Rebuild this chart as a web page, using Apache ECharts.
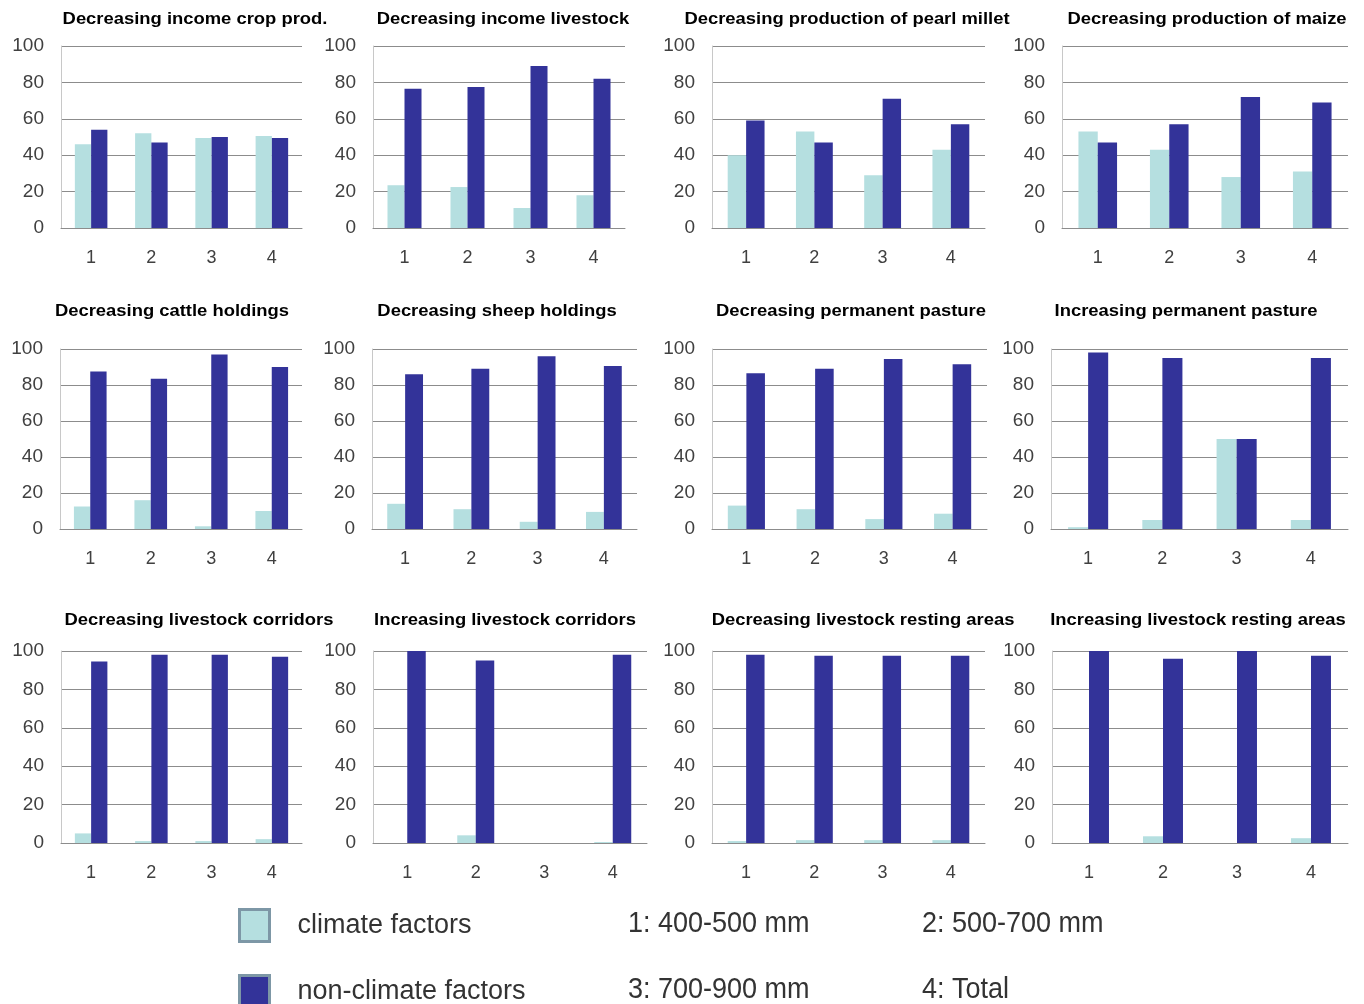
<!DOCTYPE html>
<html>
<head>
<meta charset="utf-8">
<script src="https://cdn.jsdelivr.net/npm/echarts@6/dist/echarts.min.js"></script>
<style>
html,body{margin:0;padding:0;background:#fff;}
#chart{width:1364px;height:1004px;}
</style>
</head>
<body>
<div id="chart"></div>
<script>
// ---- data ----
const categories = ['1', '2', '3', '4'];
const rainfallKey = ['1: 400-500 mm', '2: 500-700 mm', '3: 700-900 mm', '4: Total'];
const seriesNames = ['climate factors', 'non-climate factors'];
const panelTitles = [
  'Decreasing income crop prod.', 'Decreasing income livestock',
  'Decreasing production of pearl millet', 'Decreasing production of maize',
  'Decreasing cattle holdings', 'Decreasing sheep holdings',
  'Decreasing permanent pasture', 'Increasing permanent pasture',
  'Decreasing livestock corridors', 'Increasing livestock corridors',
  'Decreasing livestock resting areas', 'Increasing livestock resting areas'
];
const climateIncomeCrop = [46, 52, 49.5, 50.5];
const nonClimateIncomeCrop = [54, 47, 50, 49.5];
const climateIncomeLivestock = [23.5, 22.5, 11, 18];
const nonClimateIncomeLivestock = [76.5, 77.5, 89, 82];
const climatePearlMillet = [40, 53, 29, 43];
const nonClimatePearlMillet = [59, 47, 71, 57];
const climateMaize = [53, 43, 28, 31];
const nonClimateMaize = [47, 57, 72, 69];
const climateCattle = [12.5, 16, 1.5, 10];
const nonClimateCattle = [87.5, 83.5, 97, 90];
const climateSheep = [14, 11, 4, 9.5];
const nonClimateSheep = [86, 89, 96, 90.5];
const climateDecPasture = [13, 11, 5.5, 8.5];
const nonClimateDecPasture = [86.5, 89, 94.5, 91.5];
const climateIncPasture = [1, 5, 50, 5];
const nonClimateIncPasture = [98, 95, 50, 95];
const climateDecCorridors = [5, 1, 1, 2];
const nonClimateDecCorridors = [94.5, 98, 98, 97];
const climateIncCorridors = [0, 4, 0, 0.5];
const nonClimateIncCorridors = [100, 95, 0, 98];
const climateDecResting = [1, 1.5, 1.5, 1.5];
const nonClimateDecResting = [98, 97.5, 97.5, 97.5];
const climateIncResting = [0, 3.5, 0, 2.5];
const nonClimateIncResting = [100, 96, 100, 97.5];

const climateData = [climateIncomeCrop, climateIncomeLivestock, climatePearlMillet, climateMaize,
  climateCattle, climateSheep, climateDecPasture, climateIncPasture,
  climateDecCorridors, climateIncCorridors, climateDecResting, climateIncResting];
const nonClimateData = [nonClimateIncomeCrop, nonClimateIncomeLivestock, nonClimatePearlMillet, nonClimateMaize,
  nonClimateCattle, nonClimateSheep, nonClimateDecPasture, nonClimateIncPasture,
  nonClimateDecCorridors, nonClimateIncCorridors, nonClimateDecResting, nonClimateIncResting];

// ---- layout ----
const rowTop = [46, 349, 651];
const rowBottom = [228, 529, 843];
const colBounds = [
  [[61, 302], [373, 625], [712, 985], [1062, 1348]],
  [[60, 302], [372, 637], [712, 987], [1051, 1348]],
  [[61, 302], [373, 647], [712, 985], [1052, 1348]]
];
const titlePos = [
  [[195, 20], [503, 20], [847, 20], [1207, 20]],
  [[172, 312], [497, 312], [851, 312], [1186, 312]],
  [[199, 621], [505, 621], [863, 621], [1198, 621]]
];

const LIGHT = '#b5dfe0';
const DARK = '#333399';
const GRIDC = '#8c8c8c';
const FONT = '"Liberation Sans", Arial, sans-serif';

const grids = [], xAxes = [], yAxes = [], series = [], graphics = [];
for (let i = 0; i < 12; i++) {
  const r = Math.floor(i / 4), c = i % 4;
  const [l, rt] = colBounds[r][c];
  grids.push({ left: l, width: rt - l, top: rowTop[r], height: rowBottom[r] - rowTop[r] });
  xAxes.push({
    type: 'category', gridIndex: i, data: categories,
    axisTick: { show: false },
    axisLine: { lineStyle: { color: GRIDC, width: 1 } },
    axisLabel: { margin: 21, fontSize: 18, color: '#404040', fontFamily: FONT }
  });
  yAxes.push({
    type: 'value', gridIndex: i, min: 0, max: 100, interval: 20,
    axisLine: { show: true, lineStyle: { color: '#c8c8c8' } },
    axisTick: { show: false },
    splitLine: { lineStyle: { color: GRIDC, width: 1 } },
    axisLabel: { margin: 17, fontSize: 19, color: '#404040', fontFamily: FONT }
  });
  series.push({
    name: seriesNames[0], type: 'bar', xAxisIndex: i, yAxisIndex: i,
    data: climateData[i], itemStyle: { color: LIGHT },
    barGap: '0%', barCategoryGap: '46%'
  });
  series.push({
    name: seriesNames[1], type: 'bar', xAxisIndex: i, yAxisIndex: i,
    data: nonClimateData[i], itemStyle: { color: DARK },
    barGap: '0%', barCategoryGap: '46%'
  });
  const [tx, ty] = titlePos[r][c];
  graphics.push({
    type: 'text', x: tx, y: ty, scaleX: 1.15,
    style: { text: panelTitles[i], x: 0, y: 0, align: 'center', verticalAlign: 'middle',
      font: 'bold 16px ' + FONT, fill: '#000' }
  });
}

const keyPos = [[628, 924], [922, 924], [628, 990], [922, 990]];
rainfallKey.forEach((t, k) => {
  graphics.push({
    type: 'text', x: keyPos[k][0], y: keyPos[k][1], scaleX: 0.9,
    style: { text: t, x: 0, y: 0, align: 'left', verticalAlign: 'middle',
      font: '30px ' + FONT, fill: '#333' }
  });
});

const legendCommon = {
  orient: 'vertical', left: 238, padding: 0, itemWidth: 30, itemHeight: 32, icon: 'rect',
  itemStyle: { borderColor: '#7d97a6', borderWidth: 3 },
  textStyle: { fontSize: 27, color: '#333', fontFamily: FONT, padding: [0, 0, 0, 23] },
  selectedMode: false
};

const option = {
  animation: false,
  backgroundColor: '#fff',
  grid: grids,
  xAxis: xAxes,
  yAxis: yAxes,
  legend: [
    Object.assign({}, legendCommon, { top: 908, data: [seriesNames[0]] }),
    Object.assign({}, legendCommon, { top: 974, data: [seriesNames[1]] })
  ],
  series: series,
  graphic: graphics
};

const chart = echarts.init(document.getElementById('chart'));
chart.setOption(option);
</script>
</body>
</html>
